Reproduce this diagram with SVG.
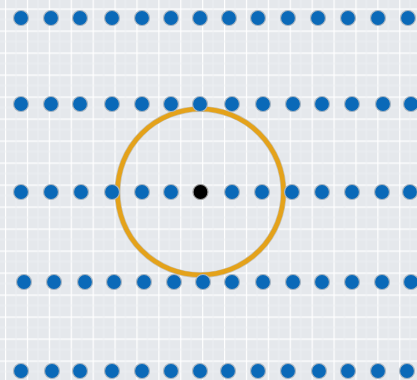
<svg xmlns="http://www.w3.org/2000/svg" width="417" height="380" viewBox="0 0 417 380">
  <style>
    .dot { fill: #0a69b8; stroke: #a9b6c2; stroke-width: 1.2; }
    .center { fill: #000000; stroke: #9a9a9a; stroke-width: 1.2; }
    .ring { fill: none; stroke: #e4a21a; stroke-width: 4.5; }
    .ringedge { fill: none; stroke: #c9c2b0; stroke-width: 6; }
  </style>
  <defs>
    <pattern id="grid" x="5" y="8.5" width="21.9" height="22" patternUnits="userSpaceOnUse">
      <rect x="0" y="0" width="21.9" height="22" fill="#e5e8ec"/>
      <path d="M0 0V22M0 0H21.9" stroke="#ffffff" stroke-width="2.4" fill="none"/>
      <path d="M11 0V22M0 11H21.9" stroke="#eef0f3" stroke-width="0.8" fill="none"/>
    </pattern>
  </defs>
  <rect id="background" x="0" y="0" width="417" height="380" fill="url(#grid)"/>
  <g id="circle">
    <circle class="ringedge" cx="200.5" cy="192" r="83"/>
    <circle class="ring" cx="200.5" cy="192" r="83"/>
  </g>
  <g id="row1">
    <circle class="dot" cx="21" cy="18" r="7.5"/>
    <circle class="dot" cx="51" cy="18" r="7.5"/>
    <circle class="dot" cx="80" cy="18" r="7.5"/>
    <circle class="dot" cx="112" cy="18" r="7.5"/>
    <circle class="dot" cx="142" cy="18" r="7.5"/>
    <circle class="dot" cx="171" cy="18" r="7.5"/>
    <circle class="dot" cx="200" cy="18" r="7.5"/>
    <circle class="dot" cx="229" cy="18" r="7.5"/>
    <circle class="dot" cx="258" cy="18" r="7.5"/>
    <circle class="dot" cx="288" cy="18" r="7.5"/>
    <circle class="dot" cx="318" cy="18" r="7.5"/>
    <circle class="dot" cx="348" cy="18" r="7.5"/>
    <circle class="dot" cx="378" cy="18" r="7.5"/>
    <circle class="dot" cx="408" cy="18" r="7.5"/>
  </g>
  <g id="row2">
    <circle class="dot" cx="21" cy="104" r="7.5"/>
    <circle class="dot" cx="51" cy="104" r="7.5"/>
    <circle class="dot" cx="80" cy="104" r="7.5"/>
    <circle class="dot" cx="112" cy="104" r="7.5"/>
    <circle class="dot" cx="142" cy="104" r="7.5"/>
    <circle class="dot" cx="171" cy="104" r="7.5"/>
    <circle class="dot" cx="200" cy="104" r="7.5"/>
    <circle class="dot" cx="232" cy="104" r="7.5"/>
    <circle class="dot" cx="263" cy="104" r="7.5"/>
    <circle class="dot" cx="293" cy="104" r="7.5"/>
    <circle class="dot" cx="322" cy="104" r="7.5"/>
    <circle class="dot" cx="352" cy="104" r="7.5"/>
    <circle class="dot" cx="383" cy="104" r="7.5"/>
    <circle class="dot" cx="411" cy="104" r="7.5"/>
  </g>
  <g id="row3">
    <circle class="dot" cx="21" cy="192" r="7.5"/>
    <circle class="dot" cx="51" cy="192" r="7.5"/>
    <circle class="dot" cx="81" cy="192" r="7.5"/>
    <circle class="dot" cx="112" cy="192" r="7.5"/>
    <circle class="dot" cx="142" cy="192" r="7.5"/>
    <circle class="dot" cx="171" cy="192" r="7.5"/>
    <circle class="dot" cx="232" cy="192" r="7.5"/>
    <circle class="dot" cx="262" cy="192" r="7.5"/>
    <circle class="dot" cx="292" cy="192" r="7.5"/>
    <circle class="dot" cx="322" cy="192" r="7.5"/>
    <circle class="dot" cx="352" cy="192" r="7.5"/>
    <circle class="dot" cx="382" cy="192" r="7.5"/>
    <circle class="dot" cx="410" cy="192" r="7.5"/>
  </g>
  <g id="center-point">
    <circle class="center" cx="200.5" cy="192" r="7.5"/>
  </g>
  <g id="row4">
    <circle class="dot" cx="24" cy="282" r="7.5"/>
    <circle class="dot" cx="54" cy="282" r="7.5"/>
    <circle class="dot" cx="85" cy="282" r="7.5"/>
    <circle class="dot" cx="114" cy="282" r="7.5"/>
    <circle class="dot" cx="144" cy="282" r="7.5"/>
    <circle class="dot" cx="174" cy="282" r="7.5"/>
    <circle class="dot" cx="203" cy="282" r="7.5"/>
    <circle class="dot" cx="232" cy="282" r="7.5"/>
    <circle class="dot" cx="263" cy="282" r="7.5"/>
    <circle class="dot" cx="293" cy="282" r="7.5"/>
    <circle class="dot" cx="322" cy="282" r="7.5"/>
    <circle class="dot" cx="352" cy="282" r="7.5"/>
    <circle class="dot" cx="382" cy="282" r="7.5"/>
    <circle class="dot" cx="411" cy="282" r="7.5"/>
  </g>
  <g id="row5">
    <circle class="dot" cx="21" cy="371" r="7.5"/>
    <circle class="dot" cx="52" cy="371" r="7.5"/>
    <circle class="dot" cx="80" cy="371" r="7.5"/>
    <circle class="dot" cx="112" cy="371" r="7.5"/>
    <circle class="dot" cx="142" cy="371" r="7.5"/>
    <circle class="dot" cx="171" cy="371" r="7.5"/>
    <circle class="dot" cx="200" cy="371" r="7.5"/>
    <circle class="dot" cx="228" cy="371" r="7.5"/>
    <circle class="dot" cx="258" cy="371" r="7.5"/>
    <circle class="dot" cx="288" cy="371" r="7.5"/>
    <circle class="dot" cx="319" cy="371" r="7.5"/>
    <circle class="dot" cx="348" cy="371" r="7.5"/>
    <circle class="dot" cx="378" cy="371" r="7.5"/>
    <circle class="dot" cx="407" cy="371" r="7.5"/>
  </g>
</svg>
